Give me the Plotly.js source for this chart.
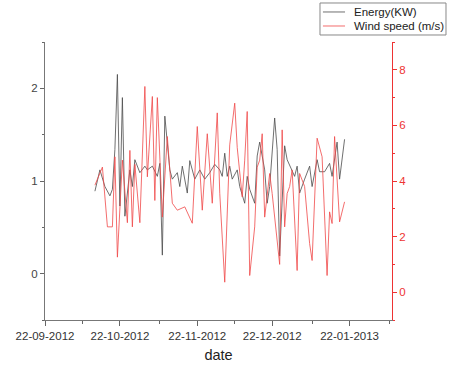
<!DOCTYPE html>
<html>
<head>
<meta charset="utf-8">
<script src="https://cdn.plot.ly/plotly-3.0.1.min.js"></script>
<style>html,body{margin:0;padding:0;background:#fff;}#chart{width:457px;height:367px;}</style>
</head>
<body>
<div id="chart"></div>
<script>
const energyDates = [
  '2012-10-12','2012-10-14','2012-10-16','2012-10-18','2012-10-19','2012-10-20','2012-10-21','2012-10-22','2012-10-23','2012-10-24',
  '2012-10-26','2012-10-27','2012-10-28','2012-10-30','2012-11-01','2012-11-02','2012-11-04','2012-11-06','2012-11-07','2012-11-08',
  '2012-11-09','2012-11-11','2012-11-12','2012-11-14','2012-11-15','2012-11-16','2012-11-18','2012-11-19','2012-11-21','2012-11-23',
  '2012-11-25','2012-11-27','2012-11-29','2012-12-01','2012-12-02','2012-12-03','2012-12-04','2012-12-05','2012-12-06','2012-12-08',
  '2012-12-09','2012-12-11','2012-12-12','2012-12-13','2012-12-15','2012-12-16','2012-12-17','2012-12-19','2012-12-20','2012-12-21',
  '2012-12-23','2012-12-24','2012-12-25','2012-12-27','2012-12-28','2012-12-30','2012-12-31','2013-01-01','2013-01-02','2013-01-04',
  '2013-01-06','2013-01-07','2013-01-09','2013-01-10','2013-01-12','2013-01-14','2013-01-15','2013-01-17','2013-01-18','2013-01-20'
];
const energyValues = [
  0.89,1.12,0.94,0.84,0.91,1.34,2.15,0.73,1.90,0.62,
  1.12,0.94,1.23,1.09,1.16,1.12,1.16,1.05,1.19,0.20,
  1.70,1.12,1.02,1.09,0.94,1.16,0.87,1.22,1.02,1.12,
  1.02,1.09,1.18,1.12,1.05,1.30,1.05,1.16,1.02,1.12,
  0.94,0.76,1.05,0.91,0.76,1.27,1.42,1.12,0.76,0.94,
  1.68,1.34,0.19,1.38,1.23,1.12,1.05,1.16,0.87,1.02,
  1.16,0.94,1.23,1.10,1.10,1.19,1.05,1.42,1.02,1.45
];
const windDates = [
  '2012-10-12','2012-10-15','2012-10-17','2012-10-19','2012-10-20','2012-10-21','2012-10-23','2012-10-25','2012-10-26','2012-10-27',
  '2012-10-28','2012-10-30','2012-11-01','2012-11-02','2012-11-04','2012-11-05','2012-11-06','2012-11-08','2012-11-10','2012-11-12',
  '2012-11-14','2012-11-17','2012-11-20','2012-11-22','2012-11-24','2012-11-26','2012-11-28','2012-11-30','2012-12-01','2012-12-03',
  '2012-12-05','2012-12-07','2012-12-08','2012-12-10','2012-12-11','2012-12-12','2012-12-13','2012-12-15','2012-12-16','2012-12-17',
  '2012-12-18','2012-12-19','2012-12-21','2012-12-22','2012-12-25','2012-12-26','2012-12-27','2012-12-28','2012-12-29','2012-12-30',
  '2013-01-01','2013-01-02','2013-01-04','2013-01-06','2013-01-07','2013-01-09','2013-01-11','2013-01-13','2013-01-14','2013-01-15',
  '2013-01-16','2013-01-17','2013-01-18','2013-01-20'
];
const windValues = [
  3.85,4.50,2.35,2.35,4.87,1.26,4.75,2.50,5.10,2.35,
  4.60,2.50,7.40,4.15,7.04,3.30,7.00,2.70,5.60,3.20,
  2.95,3.07,2.48,5.96,2.95,5.70,3.20,6.45,3.56,0.36,
  5.30,6.80,5.20,3.43,4.75,6.50,0.60,2.35,4.50,4.75,
  5.70,2.70,4.27,3.55,1.00,5.84,2.35,3.55,3.80,4.40,
  0.78,4.27,3.80,1.75,1.14,5.54,4.87,0.60,2.89,2.47,
  5.60,3.80,2.53,3.25
];
const xTickFormat = '%d-%m-%Y';
const seriesNames = ['Energy(KW)', 'Wind speed (m/s)'];

const FONT = 'Liberation Sans, Arial, sans-serif';
const ENERGY_COLOR = '#4a4a4a';
const WIND_COLOR = '#f04848';
const traces = [
  {x: energyDates, y: energyValues, name: seriesNames[0], type: 'scatter', mode: 'lines',
   line: {color: ENERGY_COLOR, width: 0.8}, yaxis: 'y'},
  {x: windDates, y: windValues, name: seriesNames[1], type: 'scatter', mode: 'lines',
   line: {color: WIND_COLOR, width: 0.8}, yaxis: 'y2'}
];

// compact legend box drawn in paper coordinates
const legendShapes = [
  {type: 'rect', xref: 'paper', yref: 'paper', x0: 0.7925, x1: 1.1556, y0: 1.0252, y1: 1.1403,
   line: {color: '#888', width: 1}, fillcolor: '#fff', layer: 'above'},
  {type: 'line', xref: 'paper', yref: 'paper', x0: 0.801, x1: 0.8646, y0: 1.108, y1: 1.108,
   line: {color: ENERGY_COLOR, width: 0.8}},
  {type: 'line', xref: 'paper', yref: 'paper', x0: 0.801, x1: 0.8646, y0: 1.0576, y1: 1.0576,
   line: {color: WIND_COLOR, width: 0.8}}
];
const legendTexts = [
  {xref: 'paper', yref: 'paper', x: 0.8847, y: 1.108, xanchor: 'left', yanchor: 'middle', showarrow: false,
   text: seriesNames[0], font: {family: FONT, size: 11.5, color: '#222'}},
  {xref: 'paper', yref: 'paper', x: 0.8847, y: 1.0576, xanchor: 'left', yanchor: 'middle', showarrow: false,
   text: seriesNames[1], font: {family: FONT, size: 11.5, color: '#222'}}
];

const layout = {
  width: 457, height: 367,
  margin: {l: 45, r: 65, t: 42, b: 47, autoexpand: false},
  paper_bgcolor: '#fff', plot_bgcolor: '#fff',
  font: {family: FONT, size: 11, color: '#333'},
  showlegend: false,
  shapes: legendShapes,
  annotations: legendTexts,
  xaxis: {
    type: 'date', range: ['2012-09-22', '2013-02-08'],
    tick0: '2012-09-22', dtick: 'M1', tickformat: xTickFormat,
    ticks: 'outside', ticklen: 5, tickcolor: '#666', showline: true, linecolor: '#777', linewidth: 1,
    showgrid: false, zeroline: false, tickfont: {size: 11.5, color: '#333'},
    minor: {tick0: '2012-10-07', dtick: 'M1', ticks: 'outside', ticklen: 3, tickcolor: '#666', showgrid: false},
    title: {text: 'date', font: {size: 14.5, color: '#222'}, standoff: 9}
  },
  yaxis: {
    range: [-0.5, 2.5], tickvals: [0, 1, 2], ticks: 'outside', ticklen: 4, tickcolor: '#666',
    showline: true, linecolor: '#777', linewidth: 1, showgrid: false, zeroline: false,
    tickfont: {size: 11.5, color: '#444'},
    minor: {dtick: 0.5, tick0: 0.5, ticks: 'outside', ticklen: 2, tickcolor: '#666', showgrid: false}
  },
  yaxis2: {
    overlaying: 'y', side: 'right', range: [-1, 9], tickvals: [0, 2, 4, 6, 8],
    ticks: 'outside', ticklen: 4, tickcolor: '#e33', showline: true, linecolor: '#e33', linewidth: 1,
    showgrid: false, zeroline: false, tickfont: {size: 11.5, color: '#e33'},
    minor: {dtick: 1, tick0: 1, ticks: 'outside', ticklen: 2, tickcolor: '#e33', showgrid: false}
  }
};
Plotly.newPlot('chart', traces, layout, {displayModeBar: false, staticPlot: true});
</script>
</body>
</html>
